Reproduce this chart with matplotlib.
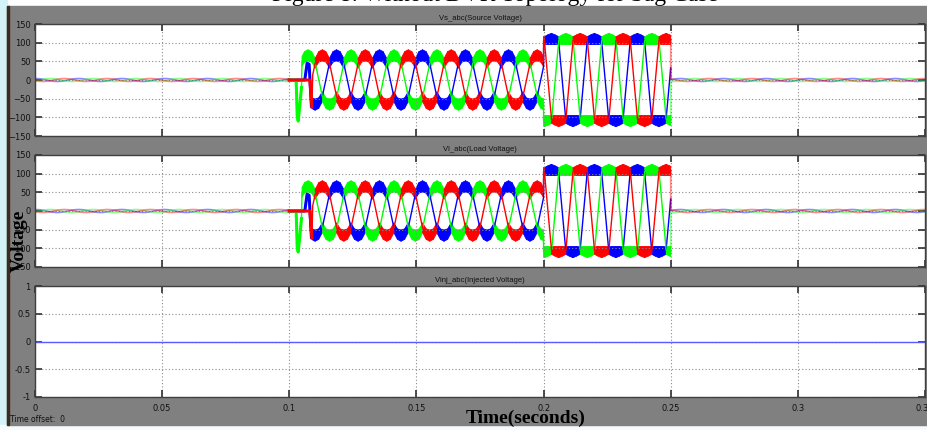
import numpy as np
import matplotlib

matplotlib.use("Agg")

import matplotlib.pyplot as plt
from matplotlib.collections import PolyCollection
from matplotlib.patches import Rectangle

# ---- values ----
PERIOD = 0.0169  # seconds per cycle
STEPS = 12  # corner points per cycle
PHASES = ["b", "c", "a"]  # drawing order
PHASE_COLORS = {"a": "#ff0000", "b": "#0000ff", "c": "#00ff00"}
PEAK_TIME = {"a": 0.1130, "b": 0.1186, "c": 0.1074}  # one positive peak per phase

# values at twelfth-of-cycle steps, starting at the positive peak
PRE_SHAPE = [4, 3.5, 2, 0, -2, -3.5, -4, -3.5, -2, 0, 2, 3.5]
STAGE1_SHAPE = [66, 62, 45, 0, -45, -62, -66, -62, -45, 0, 45, 62]
STAGE1_RIPPLE = [15, 14, 13, 0, 13, 14, 15, 14, 13, 0, 13, 14]
STAGE2_SHAPE = [110, 108, 106, 0, -106, -108, -110, -108, -106, 0, 106, 108]
STAGE2_RIPPLE = [15, 13, 10, 0, 10, 13, 15, 13, 10, 0, 10, 13]
POST_SHAPE = [4, 3.5, 2, 0, -2, -3.5, -4, -3.5, -2, 0, 2, 3.5]

# switching instants
PRE_END = 0.100
STAGE2_START = 0.200
STAGE2_END = 0.250
T_END = 0.350
STAGE1_START = {"a": 0.1092, "b": 0.1089, "c": 0.1050}

# start-up transient (time, value) per phase
TRANSIENT_T = {
    "a": [0.1000, 0.1081, 0.1089],
    "b": [0.1000, 0.1061, 0.1070, 0.1078, 0.1087],
    "c": [0.1000, 0.1027, 0.1031, 0.1035, 0.1041, 0.1048],
}
TRANSIENT_V = {
    "a": [0, 0, -72],
    "b": [0, 0, 45, 42, -70],
    "c": [0, 0, -95, -110, -70, -20],
}

PANEL_TITLES = [
    "Vs_abc(Source Voltage)",
    "Vl_abc(Load Voltage)",
    "Vinj_abc(Injected Voltage)",
]
INJECTED_T = [0.0, 0.35]
INJECTED_V = [0.0, 0.0]

X_TICKS = [0, 0.05, 0.1, 0.15, 0.2, 0.25, 0.3, 0.35]
X_TICK_LABELS = ["0", "0.05", "0.1", "0.15", "0.2", "0.25", "0.3", "0.35"]
V_TICKS = [-150, -100, -50, 0, 50, 100, 150]
INJ_TICKS = [-1, -0.5, 0, 0.5, 1]
INJ_TICK_LABELS = ["-1", "-0.5", "0", "0.5", "1"]

W, H = 928, 430
HIGH_STEPS = (10, 11, 0, 1)
LOW_STEPS = (4, 5, 6, 7)


def value_at(phase, shape, t):
    step = PERIOD / STEPS
    pos = (t - PEAK_TIME[phase]) / step
    k = int(np.floor(pos))
    frac = pos - k
    return shape[k % STEPS] * (1 - frac) + shape[(k + 1) % STEPS] * frac


def cycle_vertices(phase, shape, t0, t1):
    """Corner points of the repeated cycle between t0 and t1."""
    step = PERIOD / STEPS
    ref = PEAK_TIME[phase]
    k = np.arange(
        int(np.ceil((t0 - ref) / step)), int(np.floor((t1 - ref) / step)) + 1
    )
    t = np.concatenate([[t0], ref + k * step, [t1]])
    v = np.concatenate(
        [
            [value_at(phase, shape, t0)],
            np.asarray(shape, float)[k % STEPS],
            [value_at(phase, shape, t1)],
        ]
    )
    left = np.concatenate([[k[0] - 1], k])  # left corner of each interval
    return t, v, left


def plateau_bands(phase, t, v, left, ripple):
    """Thick ripple band drawn over the flat parts of each cycle."""
    hw = [value_at(phase, ripple, ti) for ti in t]
    polys = []
    for i, kk in enumerate(left):
        if kk % STEPS in HIGH_STEPS + LOW_STEPS:
            polys.append([
                (t[i], v[i] - hw[i]),
                (t[i + 1], v[i + 1] - hw[i + 1]),
                (t[i + 1], v[i + 1] + hw[i + 1]),
                (t[i], v[i] + hw[i]),
            ])
    return polys


def px_to_fig(x0, y0, x1, y1):
    return [x0 / W, 1 - y1 / H, (x1 - x0) / W, (y1 - y0) / H]


fig = plt.figure(figsize=(W / 100, H / 100), dpi=100)
fig.patch.set_facecolor("white")

# window background
fig.add_artist(Rectangle((0, 0), 7 / W, 1, transform=fig.transFigure,
                         color="#d4f3f9", zorder=0.2))
fig.add_artist(Rectangle((0, 0), 1, 5 / H, transform=fig.transFigure,
                         color="#f3fbfc", zorder=0.2))
fig.add_artist(Rectangle((7 / W, 5 / H), 921 / W, 419 / H,
                         transform=fig.transFigure, color="#808080", zorder=1))
fig.add_artist(Rectangle((7 / W, 5 / H), 2 / W, 419 / H,
                         transform=fig.transFigure, color="#3b2d1e", zorder=1.1))

fig.text(495 / W, 1 - 1 / H, "Figure 8: Without DVR Topology for Sag Case",
         ha="center", va="baseline", fontsize=17, family="Liberation Serif",
         color="black", zorder=0.5)

panel_boxes = [(24, 136), (155, 267), (286, 397)]
axes = []
for (top, bottom), title in zip(panel_boxes, PANEL_TITLES):
    ax = fig.add_axes(px_to_fig(35, top, 925, bottom))
    ax.set_zorder(2)
    ax.set_facecolor("white")
    ax.set_xlim(0, 0.35)
    ax.set_xticks(X_TICKS)
    ax.grid(True, color="#8c8c8c", linestyle=(0, (1, 2)), linewidth=0.8)
    ax.tick_params(direction="in", length=5, width=1.2, color="#303030",
                   top=True, right=True, labelsize=6, pad=3,
                   labelcolor="#111111")
    for sp in ax.spines.values():
        sp.set_color("#404040")
        sp.set_linewidth(1.0)
    ax.set_title(title, fontsize=5.5, pad=3, color="#111111",
                 family="Liberation Sans")
    axes.append(ax)

for ax in axes[:2]:
    ax.set_ylim(-150, 150)
    ax.set_yticks(V_TICKS)
    ax.set_xticklabels([])
    for ph in PHASES:
        col = PHASE_COLORS[ph]
        pre_t, pre_v, _ = cycle_vertices(ph, PRE_SHAPE, 0.0, PRE_END)
        s1_t, s1_v, s1_l = cycle_vertices(ph, STAGE1_SHAPE, STAGE1_START[ph],
                                          STAGE2_START)
        s2_t, s2_v, s2_l = cycle_vertices(ph, STAGE2_SHAPE, STAGE2_START,
                                          STAGE2_END)
        po_t, po_v, _ = cycle_vertices(ph, POST_SHAPE, STAGE2_END, T_END)

        ax.plot(pre_t, pre_v, color=col, lw=1.2, alpha=0.45)
        ax.plot(TRANSIENT_T[ph], TRANSIENT_V[ph], color=col, lw=2.2)
        ax.plot(np.concatenate([TRANSIENT_T[ph][-1:], s1_t, s2_t]),
                np.concatenate([TRANSIENT_V[ph][-1:], s1_v, s2_v]),
                color=col, lw=1.0)
        ax.plot(np.concatenate([s2_t[-1:], po_t]),
                np.concatenate([s2_v[-1:], po_v]),
                color=col, lw=1.2, alpha=0.45)
        ax.add_collection(PolyCollection(
            plateau_bands(ph, s1_t, s1_v, s1_l, STAGE1_RIPPLE),
            facecolors=col, edgecolors=col, linewidths=0.6))
        ax.add_collection(PolyCollection(
            plateau_bands(ph, s2_t, s2_v, s2_l, STAGE2_RIPPLE),
            facecolors=col, edgecolors=col, linewidths=0.6))

ax3 = axes[2]
ax3.set_ylim(-1, 1)
ax3.set_yticks(INJ_TICKS)
ax3.set_yticklabels(INJ_TICK_LABELS)
ax3.set_xticklabels(X_TICK_LABELS)
ax3.tick_params(axis="x", pad=5)
ax3.plot(INJECTED_T, INJECTED_V, color="#5a5aff", lw=1.0)

fig.text(10 / W, 1 - 419 / H, "Time offset:  0", fontsize=5.5,
         va="center", color="#111111", zorder=3)
fig.text(526 / W, 1 - 418 / H, "Time(seconds)", ha="center", va="center",
         fontsize=14, fontweight="bold", family="Liberation Serif", zorder=5)
fig.text(19 / W, 1 - 241 / H, "Voltage", ha="center", va="center",
         rotation=90, fontsize=14, fontweight="bold",
         family="Liberation Serif", zorder=5)

fig.savefig("out.png", dpi=100)
